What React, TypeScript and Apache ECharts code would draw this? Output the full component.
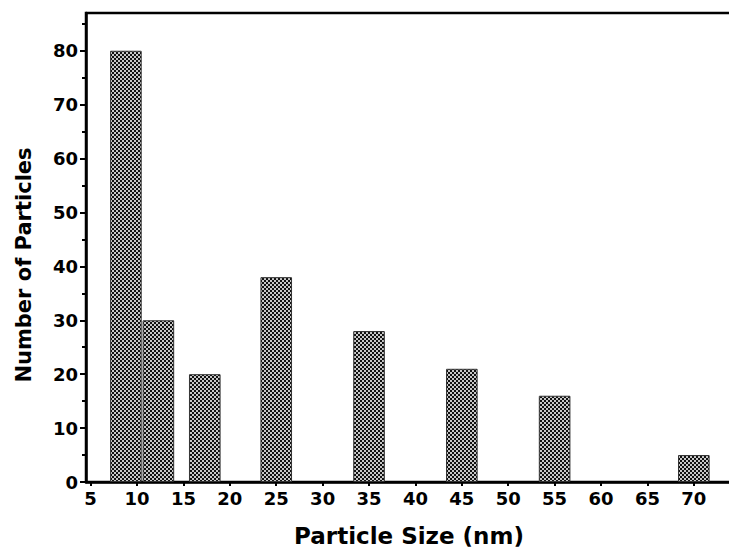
import React, { useEffect, useRef } from "react";
import * as echarts from "echarts";

const sizes = [8.8, 12.3, 17.3, 25, 35, 45, 55, 70];
const counts = [80, 30, 20, 38, 28, 21, 16, 5];
const xTicks = [5, 10, 15, 20, 25, 30, 35, 40, 45, 50, 55, 60, 65, 70];
const yTicks = [0, 10, 20, 30, 40, 50, 60, 70, 80];
const yMinorTicks = [5, 15, 25, 35, 45, 55, 65, 75, 85];

const FONT = "DejaVu Sans";

function makePattern(): string {
  const c = document.createElement("canvas");
  c.width = 4;
  c.height = 4;
  const ctx = c.getContext("2d")!;
  ctx.fillStyle = "#c8c8c8";
  ctx.fillRect(0, 0, 4, 4);
  ctx.fillStyle = "#111111";
  ctx.fillRect(0, 0, 2, 2);
  ctx.fillRect(2, 2, 2, 2);
  return c.toDataURL();
}

export default function App() {
  const ref = useRef<HTMLDivElement>(null);
  useEffect(() => {
    if (!ref.current) return;
    const chart = echarts.init(ref.current, undefined, { renderer: "svg" });
    const pattern = makePattern();
    const labelStyle = {
      color: "#000",
      fontFamily: FONT,
      fontWeight: "bold" as const,
      fontSize: 18,
    };
    chart.setOption({
      animation: false,
      backgroundColor: "#fff",
      grid: {
        left: 86,
        top: 13,
        width: 663.5,
        height: 469,
        outerBoundsMode: "none",
        containLabel: false,
        show: true,
        borderColor: "#000",
        borderWidth: 2.5,
      },
      xAxis: [
        {
          type: "value",
          min: 4.5,
          max: 76,
          position: "bottom",
          axisLine: { show: true, lineStyle: { color: "#000", width: 2.5 } },
          axisTick: {
            show: true,
            inside: false,
            length: 4,
            lineStyle: { color: "#000", width: 2 },
            customValues: xTicks,
          },
          axisLabel: { ...labelStyle, margin: 7, customValues: xTicks },
          splitLine: { show: false },
          name: "Particle Size (nm)",
          nameLocation: "middle",
          nameGap: 42,
          nameTextStyle: {
            color: "#000",
            fontFamily: FONT,
            fontWeight: "bold",
            fontSize: 23,
            padding: [0, 17.5, 0, 0],
          },
        },
      ],
      yAxis: [
        {
          type: "value",
          min: 0,
          max: 87,
          position: "left",
          axisLine: { show: true, lineStyle: { color: "#000", width: 2.5 } },
          axisTick: {
            show: true,
            inside: false,
            length: 6,
            lineStyle: { color: "#000", width: 2 },
            customValues: yTicks,
          },
          axisLabel: { ...labelStyle, margin: 8, customValues: yTicks },
          splitLine: { show: false },
          name: "Number of Particles",
          nameLocation: "middle",
          nameGap: 52,
          nameTextStyle: {
            color: "#000",
            fontFamily: FONT,
            fontWeight: "bold",
            fontSize: 21,
            padding: [0, 35, 0, 0],
          },
        },
        {
          type: "value",
          min: 0,
          max: 87,
          position: "left",
          offset: 0,
          axisLine: { show: false },
          axisTick: {
            show: true,
            inside: false,
            length: 4,
            lineStyle: { color: "#000", width: 2 },
            customValues: yMinorTicks,
          },
          axisLabel: { show: false },
          splitLine: { show: false },
        },
      ],
      series: [
        {
          type: "bar",
          xAxisIndex: 0,
          yAxisIndex: 0,
          barWidth: 31.6,
          data: sizes.map((s, i) => [s, counts[i]]),
          itemStyle: {
            color: { image: pattern, repeat: "repeat" },
            borderColor: "#333",
            borderWidth: 1,
          },
        },
      ],
    });
    return () => chart.dispose();
  }, []);
  return (
    <div
      ref={ref}
      style={{ position: "absolute", left: 0, top: 0, width: 729, height: 552 }}
    />
  );
}
